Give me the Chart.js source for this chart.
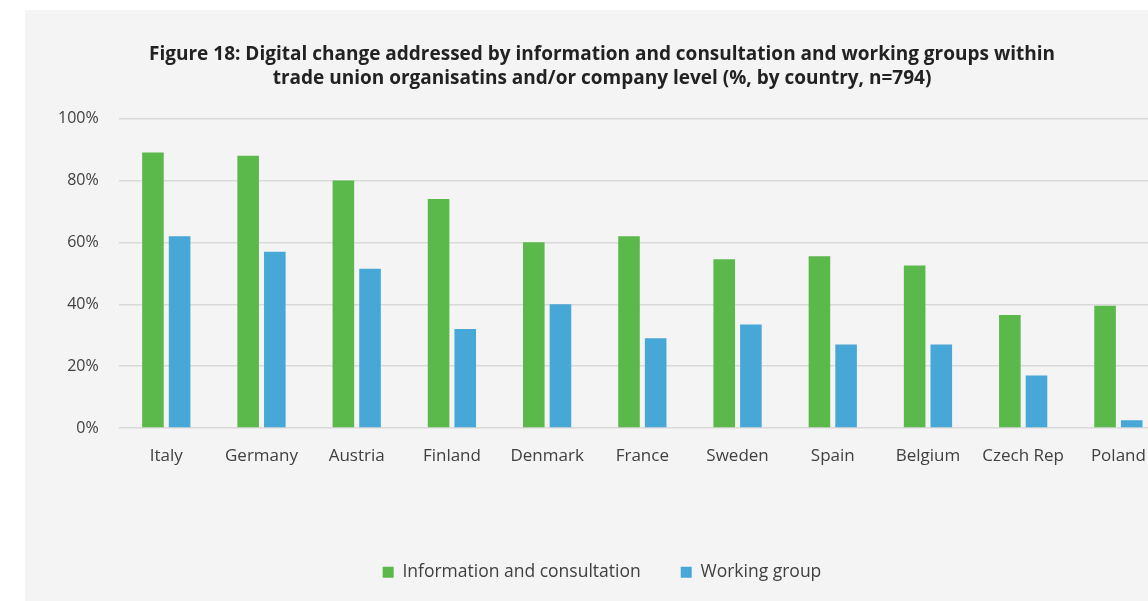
<!DOCTYPE html>
<html>
<head>
<meta charset="utf-8">
<script src="https://cdn.jsdelivr.net/npm/chart.js@4.4.0/dist/chart.umd.min.js"></script>
<style>
	html, body { margin: 0; padding: 0; background: #ffffff; overflow: hidden; }
	.wrap { position: absolute; left: 25px; top: 10px; width: 1150px; height: 600px; background: #f4f4f4; }
</style>
</head>
<body>
<div class="wrap"><canvas id="myChart"></canvas></div>
<script>
var countries = ["Italy", "Germany", "Austria", "Finland", "Denmark", "France", "Sweden", "Spain", "Belgium", "Czech Rep", "Poland"];
var infoConsult = [89, 88, 80, 74, 60, 62, 54.5, 55.5, 52.5, 36.5, 39.5];
var workingGroup = [62, 57, 51.5, 32, 40, 29, 33.5, 27, 27, 17, 2.5];
var yTicks = [0, 20, 40, 60, 80, 100];

var textColor = "#404040";
var fontFamily = "'Open Sans', sans-serif";

var ctx = document.getElementById('myChart');
var myChart = new Chart(ctx, {
	type: 'bar',
	data: {
		labels: countries,
		datasets: [{
			label: "Information and consultation",
			data: infoConsult,
			backgroundColor: "#5bb94b"
		}, {
			label: "Working group",
			data: workingGroup,
			backgroundColor: "#47a8d8"
		}]
	},
	options: {
		responsive: true,
		maintainAspectRatio: false,
		animation: false,
		categoryPercentage: 0.56,
		barPercentage: 0.81,
		layout: {
			padding: { left: 13, right: 9, top: 0, bottom: 19 }
		},
		scales: {
			x: {
				grid: { display: false },
				border: { display: false },
				ticks: {
					color: textColor,
					padding: 10,
					font: { family: fontFamily, size: 17 }
				},
				afterFit: function(scale){
					scale.height += 47;
				}
			},
			y: {
				min: 0,
				max: 100,
				afterBuildTicks: function(scale){
					scale.ticks = yTicks.map(function(v){ return { value: v }; });
				},
				grid: { color: "#d9d9d9", lineWidth: 1.5, drawTicks: false },
				border: { display: false },
				ticks: {
					color: textColor,
					padding: 20,
					font: { family: fontFamily, size: 16 },
					callback: function(v){ return v + "%"; }
				}
			}
		},
		plugins: {
			title: {
				display: true,
				text: ["Figure 18: Digital change addressed by information and consultation and working groups within",
					"trade union organisatins and/or company level (%, by country, n=794)"],
				color: "#222222",
				font: { family: fontFamily, size: 19, weight: 'bold', lineHeight: 1.25 },
				padding: { top: 33, bottom: 28 }
			},
			legend: {
				position: 'bottom',
				labels: {
					color: textColor,
					boxWidth: 11,
					boxHeight: 11,
					padding: 40,
					font: { family: fontFamily, size: 17.5 }
				}
			},
			tooltip: { enabled: false }
		}
	}
});
</script>
</body>
</html>
